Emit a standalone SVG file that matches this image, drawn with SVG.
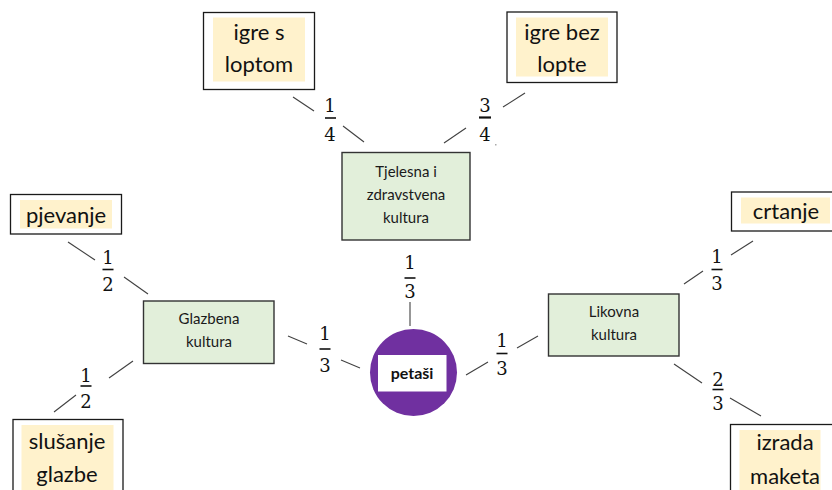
<svg xmlns="http://www.w3.org/2000/svg" width="832" height="490" viewBox="0 0 832 490">
<style>
.leaf{fill:#ffffff;stroke:#1a1a1a;stroke-width:1.3}
.hl{fill:#fff2cc}
.cat{fill:#e2efda;stroke:#333333;stroke-width:1.4}
.lt{font-family:Lato,"Open Sans",sans-serif;font-size:22px;fill:#111111;text-anchor:middle}
.ct{font-family:Lato,"Open Sans",sans-serif;font-size:15px;fill:#1a1a1a;text-anchor:middle}
.fr{font-family:"DejaVu Serif","Liberation Serif",serif;font-size:18px;fill:#111111;text-anchor:middle}
.bar{stroke:#111111;stroke-width:1.6}
.ln{stroke:#404040;stroke-width:1.1;fill:none}
</style>
<rect width="832" height="490" fill="#ffffff"/>
<g id="connectors">
<line class="ln" x1="293" y1="97" x2="314" y2="111"/>
<line class="ln" x1="343" y1="126" x2="364" y2="142"/>
<line class="ln" x1="503" y1="107" x2="525" y2="93"/>
<line class="ln" x1="444" y1="143" x2="466" y2="128"/>
<line class="ln" x1="410" y1="302" x2="410" y2="326"/>
<line class="ln" x1="288" y1="336" x2="307" y2="344"/>
<line class="ln" x1="341" y1="360" x2="360" y2="368"/>
<line class="ln" x1="466" y1="375" x2="488" y2="362"/>
<line class="ln" x1="517" y1="348" x2="538" y2="336"/>
<line class="ln" x1="68" y1="242" x2="95" y2="260"/>
<line class="ln" x1="124" y1="277" x2="148" y2="294"/>
<line class="ln" x1="133" y1="361" x2="109" y2="378"/>
<line class="ln" x1="76" y1="395" x2="54" y2="412"/>
<line class="ln" x1="731" y1="255" x2="753" y2="241"/>
<line class="ln" x1="684" y1="284" x2="703" y2="271"/>
<line class="ln" x1="674" y1="364" x2="702" y2="383"/>
<line class="ln" x1="730" y1="398" x2="761" y2="416"/>
</g>
<g id="fractions">
<g><text class="fr" x="330" y="111.5">1</text><line class="bar" x1="325" y1="118" x2="336" y2="118"/><text class="fr" x="330" y="140.5">4</text></g>
<g><text class="fr" x="485" y="111.5">3</text><line class="bar" x1="479" y1="117.5" x2="491" y2="117.5" style="stroke-width:2.2"/><text class="fr" x="485" y="140.5">4</text></g>
<rect x="495" y="144" width="1.5" height="1.5" fill="#aaaaaa"/>
<g><text class="fr" x="410" y="269">1</text><line class="bar" x1="404.5" y1="278" x2="415.5" y2="278"/><text class="fr" x="410" y="298">3</text></g>
<g><text class="fr" x="325" y="339.5">1</text><line class="bar" x1="319.5" y1="349" x2="330.5" y2="349"/><text class="fr" x="325" y="371.5">3</text></g>
<g><text class="fr" x="502" y="346.5">1</text><line class="bar" x1="496.5" y1="353.5" x2="507.5" y2="353.5"/><text class="fr" x="502" y="375">3</text></g>
<g><text class="fr" x="108" y="263.5">1</text><line class="bar" x1="102.5" y1="269.5" x2="113.5" y2="269.5"/><text class="fr" x="108" y="290.5">2</text></g>
<g><text class="fr" x="86" y="381.5">1</text><line class="bar" x1="80.5" y1="386" x2="91.5" y2="386"/><text class="fr" x="86" y="407.5">2</text></g>
<g><text class="fr" x="717" y="263">1</text><line class="bar" x1="711.5" y1="269.5" x2="722.5" y2="269.5"/><text class="fr" x="717" y="289.5">3</text></g>
<g><text class="fr" x="718" y="385.5">2</text><line class="bar" x1="712.5" y1="389.5" x2="723.5" y2="389.5"/><text class="fr" x="718" y="410">3</text></g>
</g>
<g id="igre-s-loptom">
<rect class="leaf" x="203.5" y="12.5" width="111" height="77"/>
<rect class="hl" x="213" y="17.5" width="92" height="64"/>
<text class="lt" x="259" y="40">igre s</text>
<text class="lt" x="259" y="72">loptom</text>
</g>
<g id="igre-bez-lopte">
<rect class="leaf" x="507" y="12" width="110" height="70.5"/>
<rect class="hl" x="516" y="17.5" width="92" height="59"/>
<text class="lt" x="562" y="39.5">igre bez</text>
<text class="lt" x="562" y="71.5">lopte</text>
</g>
<g id="tjelesna">
<rect class="cat" x="342" y="152.5" width="128" height="87.5"/>
<text class="ct" x="406" y="177">Tjelesna i</text>
<text class="ct" x="406" y="200">zdravstvena</text>
<text class="ct" x="406" y="223">kultura</text>
</g>
<g id="petasi">
<circle cx="413.5" cy="372.5" r="43.5" fill="#7030a0"/>
<rect x="378" y="355" width="68.5" height="36.5" fill="#ffffff"/>
<text x="412" y="378.5" style="font-family:Lato,'Open Sans',sans-serif;font-size:16px;font-weight:bold;fill:#111111;text-anchor:middle">petaši</text>
</g>
<g id="glazbena">
<rect class="cat" x="143.5" y="301" width="130.5" height="62.5"/>
<text class="ct" x="209" y="324">Glazbena</text>
<text class="ct" x="209" y="347">kultura</text>
</g>
<g id="pjevanje">
<rect class="leaf" x="10.5" y="194.5" width="111" height="39.5"/>
<rect class="hl" x="20" y="200" width="92" height="28.5"/>
<text class="lt" x="66" y="223">pjevanje</text>
</g>
<g id="slusanje-glazbe">
<rect class="leaf" x="13" y="419.5" width="110" height="80"/>
<rect class="hl" x="21.5" y="425" width="92" height="70"/>
<text class="lt" x="67" y="448.5">slušanje</text>
<text class="lt" x="67" y="481.5">glazbe</text>
</g>
<g id="likovna">
<rect class="cat" x="548.5" y="294" width="130.5" height="62"/>
<text class="ct" x="614" y="317">Likovna</text>
<text class="ct" x="614" y="340">kultura</text>
</g>
<g id="crtanje">
<rect class="leaf" x="731.5" y="192" width="110" height="39"/>
<rect class="hl" x="741" y="197.5" width="89" height="26"/>
<text class="lt" x="786" y="218.5">crtanje</text>
</g>
<g id="izrada-maketa">
<rect class="leaf" x="730.5" y="424.5" width="110" height="80"/>
<rect class="hl" x="739.5" y="430" width="81" height="70"/>
<text class="lt" x="785" y="450">izrada</text>
<text class="lt" x="785" y="484">maketa</text>
</g>
</svg>
